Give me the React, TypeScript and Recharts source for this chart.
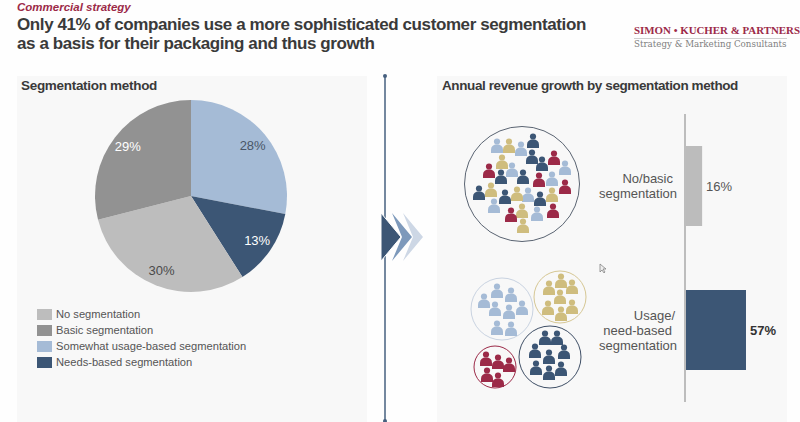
import { Bar, BarChart, Cell, LabelList, Pie, PieChart, Scatter, ScatterChart, XAxis, YAxis, ZAxis } from "recharts";

const NAVY = "#3c5675";
const LIGHT = "#a5bbd6";
const TAN = "#cfbd7e";
const RED = "#9c2a48";

// pie, clockwise from 12 o'clock
const pieNames = ["Somewhat usage-based segmentation", "Needs-based segmentation", "No segmentation", "Basic segmentation"];
const pieValues = [28, 13, 30, 29];
const pieColors = [LIGHT, NAVY, "#bdbdbd", "#929292"];
const pieLabelColors = ["#4a5668", "#ffffff", "#4a4a4a", "#ffffff"];

const legendNames = ["No segmentation", "Basic segmentation", "Somewhat usage-based segmentation", "Needs-based segmentation"];
const legendColors = ["#bdbdbd", "#929292", LIGHT, NAVY];

const growthLabels = [["No/basic", "segmentation"], ["Usage/", "need-based", "segmentation"]];
const growthNudge = [[-4, 0], [-2, -5, 0]];
const growthValues = [16, 57];
const growthColors = ["#bcbcbc", NAVY];

// x, y of the rings and people in the picture
const ringData = [
  { x: 522, y: 184, r: 57.5, c: "#5a6472" },
  { x: 502, y: 309, r: 31, c: "#c9d3e1" },
  { x: 560, y: 297, r: 26, c: "#d6c794" },
  { x: 550, y: 357, r: 31, c: "#3f4f66" },
  { x: 495, y: 367, r: 21, c: RED },
];
const navyPeople = [[533, 141], [532, 157], [542, 164], [501, 177], [523, 177], [479, 193], [505, 197], [540, 199], [545, 338], [557, 338], [535, 351], [564, 352], [549, 357], [536, 368], [561, 369], [549, 373]];
const lightPeople = [[497, 146], [521, 149], [565, 168], [512, 170], [552, 179], [528, 195], [494, 206], [537, 214], [497, 291], [511, 295], [484, 301], [495, 309], [509, 312], [522, 308], [497, 328], [511, 329]];
const tanPeople = [[509, 146], [502, 162], [491, 190], [517, 194], [552, 195], [522, 211], [523, 226], [561, 281], [549, 288], [572, 287], [560, 297], [548, 308], [572, 307], [561, 314]];
const redPeople = [[554, 158], [489, 171], [539, 180], [565, 187], [511, 215], [553, 211], [486, 359], [498, 362], [509, 365], [487, 375], [498, 380]];

const SANS = "'Liberation Sans', Arial, sans-serif";
const INK = "#555555";

const pts = (a: number[][]) => a.map(([x, y]) => ({ x, y }));

function person(color: string) {
  return (p: any) => (
    <g fill={color}>
      <circle cx={p.cx} cy={p.cy - 4.5} r={3.1} />
      <path d={`M${p.cx - 6} ${p.cy + 7} v-3 q0 -5.5 6 -5.5 q6 0 6 5.5 v3 z`} />
    </g>
  );
}

function Ring(p: any) {
  return <circle cx={p.cx} cy={p.cy} r={p.payload.r} fill="none" stroke={p.payload.c} strokeWidth={1} />;
}

function PieLabel(p: any) {
  const rad = (-p.midAngle * Math.PI) / 180;
  const r = 80;
  return (
    <text x={p.cx + r * Math.cos(rad)} y={p.cy + r * Math.sin(rad)} textAnchor="middle" dominantBaseline="central" fontSize={13} fill={pieLabelColors[p.index]}>
      {p.value}%
    </text>
  );
}

function GrowthTick(p: any) {
  const lines = growthLabels[p.index] ?? [];
  const top = p.y - ((lines.length - 1) * 15) / 2;
  return (
    <text textAnchor="end" fontSize={13} fill={INK}>
      {lines.map((t, i) => (
        <tspan key={t} x={p.x - 2 + growthNudge[p.index][i]} y={top + i * 15} dy="0.35em">{t}</tspan>
      ))}
    </text>
  );
}

function GrowthLabel(p: any) {
  const big = p.value === 57;
  return (
    <text x={p.x + p.width + 4} y={p.y + p.height / 2} dy="0.35em" fontSize={13} fontWeight={big ? 700 : 400} fill={big ? "#333" : INK}>
      {p.value}%
    </text>
  );
}

export default function App() {
  const pieData = pieNames.map((name, i) => ({ name, value: pieValues[i] }));
  const growthData = growthValues.map((value, i) => ({ name: growthLabels[i].join(" "), value }));
  const box = (left: number, top: number, extra?: any) => ({ position: "absolute" as const, left, top, whiteSpace: "nowrap" as const, ...extra });

  return (
    <div style={{ position: "absolute", left: 0, top: 0, width: 800, height: 422, background: "#fefefe", fontFamily: SANS, overflow: "hidden" }}>
      <div style={{ position: "absolute", left: 17, top: 76, width: 350, height: 346, background: "#f8f8f8" }} />
      <div style={{ position: "absolute", left: 437, top: 76, width: 350, height: 346, background: "#f8f8f8" }} />

      <div style={box(17, 1, { fontSize: 11.5, fontStyle: "italic", fontWeight: 700, color: "#9c2a48" })}>Commercial strategy</div>
      <div style={box(17, 15, { fontSize: 17, fontWeight: 700, color: "#3a3a3a", lineHeight: "19px", letterSpacing: -0.4 })}>
        Only 41% of companies use a more sophisticated customer segmentation
        <br />
        as a basis for their packaging and thus growth
      </div>
      <div style={box(634, 24, { fontFamily: "'Liberation Serif', serif", fontSize: 10.9, fontWeight: 700, color: "#9c2a48" })}>SIMON • KUCHER &amp; PARTNERS</div>
      <div style={{ position: "absolute", left: 634, top: 38, width: 153, height: 1, background: "#cfcfcf" }} />
      <div style={box(634, 39, { fontFamily: "'DejaVu Serif', serif", fontSize: 8.7, color: "#808080" })}>Strategy &amp; Marketing Consultants</div>

      <div style={box(21, 78, { fontSize: 13.5, fontWeight: 700, color: "#3a3a3a", letterSpacing: -0.3 })}>Segmentation method</div>
      <div style={box(442, 78, { fontSize: 13.5, fontWeight: 700, color: "#3a3a3a", letterSpacing: -0.4 })}>Annual revenue growth by segmentation method</div>

      <svg width={800} height={422} style={{ position: "absolute", left: 0, top: 0 }}>
        <line x1={385} y1={76} x2={385} y2={422} stroke="#46607f" strokeWidth={1.5} />
        <circle cx={385} cy={76} r={2} fill="#46607f" />
        <circle cx={385} cy={421} r={2} fill="#46607f" />
        <polygon points="381,213 401,237 381,261" fill={NAVY} stroke="#fff" strokeWidth={1} />
        <polygon points="392,213 412,237 392,261 402,237" fill="#7d99bb" />
        <polygon points="403,213 423,237 403,261 413,237" fill="#cdd7e5" />
        <path d="M600 264 v8 l2 -2 l2 3 l1 -1 l-2 -3 h3 z" fill="#eee" stroke="#777" strokeWidth={0.7} />
      </svg>

      <div style={{ position: "absolute", left: 91, top: 95.5 }}>
        <PieChart width={200} height={200} margin={{ top: 0, right: 0, bottom: 0, left: 0 }}>
          <Pie data={pieData} dataKey="value" cx={100} cy={100} outerRadius={96} startAngle={90} endAngle={-270} stroke="none" label={PieLabel} labelLine={false} isAnimationActive={false}>
            {pieData.map((d, i) => <Cell key={d.name} fill={pieColors[i]} />)}
          </Pie>
        </PieChart>
      </div>

      <div style={{ position: "absolute", left: 37, top: 306 }}>
        {legendNames.map((n, i) => (
          <div key={n} style={{ display: "flex", alignItems: "center", height: 16, fontSize: 11.15, color: INK }}>
            <span style={{ width: 15, height: 11, marginRight: 4, background: legendColors[i] }} />
            {n}
          </div>
        ))}
      </div>

      <div style={{ position: "absolute", left: 440, top: 110 }}>
        <ScatterChart width={240} height={300} margin={{ top: 0, right: 0, bottom: 0, left: 0 }}>
          <XAxis type="number" dataKey="x" domain={[440, 680]} hide />
          <YAxis type="number" dataKey="y" domain={[110, 410]} reversed hide />
          <ZAxis range={[40, 40]} />
          <Scatter data={ringData} shape={Ring} isAnimationActive={false} />
          <Scatter data={pts(navyPeople)} shape={person(NAVY)} isAnimationActive={false} />
          <Scatter data={pts(lightPeople)} shape={person(LIGHT)} isAnimationActive={false} />
          <Scatter data={pts(tanPeople)} shape={person(TAN)} isAnimationActive={false} />
          <Scatter data={pts(redPeople)} shape={person(RED)} isAnimationActive={false} />
        </ScatterChart>
      </div>

      <div style={{ position: "absolute", left: 584.5, top: 114 }}>
        <BarChart layout="vertical" width={207} height={288} data={growthData} margin={{ top: 0, right: 0, bottom: 0, left: 0 }}>
          <XAxis type="number" domain={[0, 100]} hide />
          <YAxis type="category" dataKey="name" width={100} axisLine={{ stroke: "#bdbdbd", strokeWidth: 2 }} tickLine={false} tick={GrowthTick} tickMargin={0} interval={0} />
          <Bar dataKey="value" barSize={80} isAnimationActive={false}>
            {growthData.map((d, i) => <Cell key={d.name} fill={growthColors[i]} />)}
            <LabelList dataKey="value" content={GrowthLabel} />
          </Bar>
        </BarChart>
      </div>
    </div>
  );
}
